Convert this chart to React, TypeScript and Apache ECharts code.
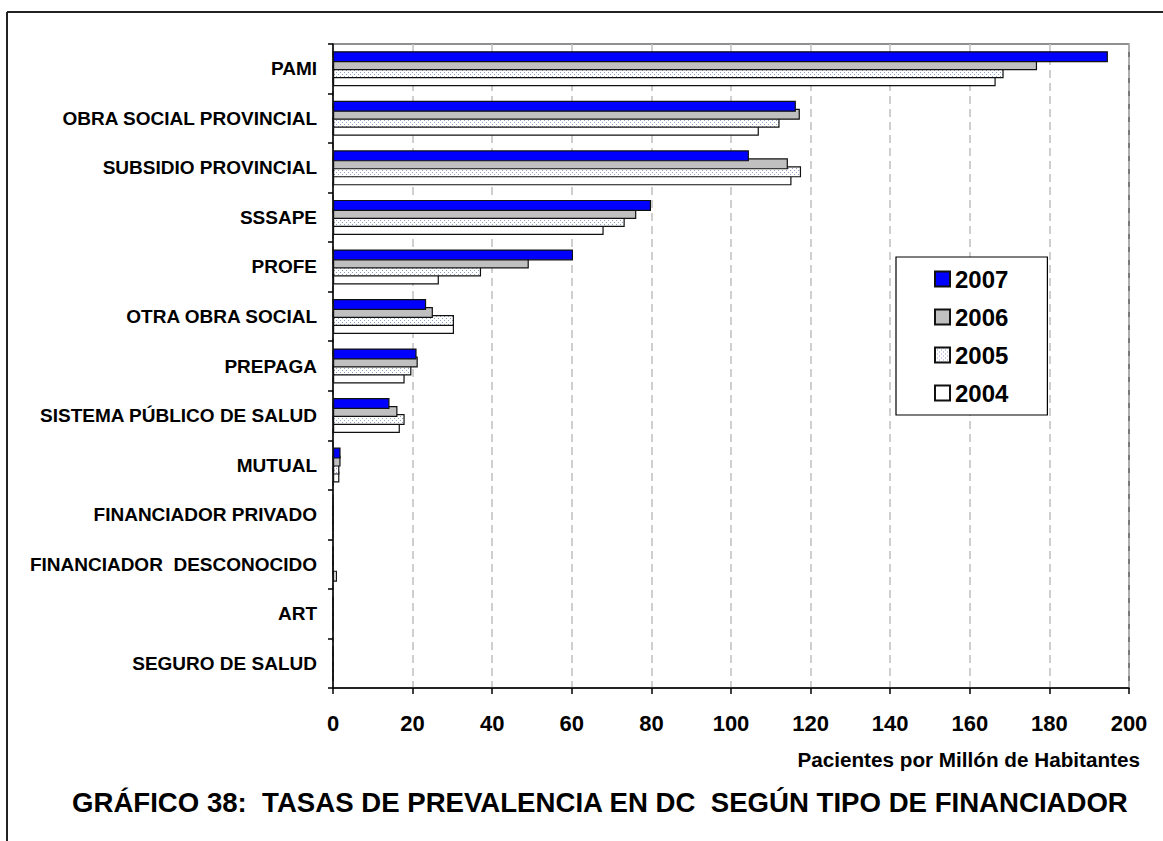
import React, { useEffect, useRef } from "react";
import * as echarts from "echarts";

const categories = [
  "PAMI",
  "OBRA SOCIAL PROVINCIAL",
  "SUBSIDIO PROVINCIAL",
  "SSSAPE",
  "PROFE",
  "OTRA OBRA SOCIAL",
  "PREPAGA",
  "SISTEMA PÚBLICO DE SALUD",
  "MUTUAL",
  "FINANCIADOR PRIVADO",
  "FINANCIADOR  DESCONOCIDO",
  "ART",
  "SEGURO DE SALUD",
];
const seriesNames = ["2007", "2006", "2005", "2004"];
const v2007 = [194.7, 116.3, 104.5, 79.9, 60.3, 23.4, 21.0, 14.2, 1.9, 0, 0, 0, 0];
const v2006 = [176.9, 117.3, 114.3, 76.2, 49.2, 25.1, 21.3, 16.2, 1.9, 0, 0, 0, 0];
const v2005 = [168.5, 112.2, 117.6, 73.3, 37.2, 30.4, 19.7, 18.0, 1.6, 0, 0, 0, 0];
const v2004 = [166.5, 107.0, 115.2, 68.0, 26.6, 30.4, 18.0, 16.8, 1.6, 0, 1.0, 0, 0];
const xTicks = { min: 0, max: 200, interval: 20 };

const FONT = "'Liberation Sans', Arial, Helvetica, sans-serif";

function makeDotPattern(): string {
  const c = document.createElement("canvas");
  c.width = 4;
  c.height = 4;
  const ctx = c.getContext("2d");
  if (ctx) {
    ctx.fillStyle = "#ffffff";
    ctx.fillRect(0, 0, 4, 4);
    ctx.fillStyle = "#8ea2c8";
    ctx.fillRect(0, 0, 1, 1);
    ctx.fillRect(2, 2, 1, 1);
  }
  return c.toDataURL();
}

export default function App() {
  const ref = useRef<HTMLDivElement>(null);
  useEffect(() => {
    if (!ref.current) return;
    const chart = echarts.init(ref.current, undefined, { renderer: "svg" });
    const dot = makeDotPattern();
    const fills: any[] = [
      "#0000ff",
      "#c0c0c0",
      { image: dot, repeat: "repeat" },
      "#ffffff",
    ];
    const values = [v2007, v2006, v2005, v2004];
    const series = seriesNames.map((name, i) => ({
      name,
      type: "bar",
      data: values[i],
      barWidth: 11,
      barGap: "-27.3%",
      z: 10 - i,
      itemStyle: { color: fills[i], borderColor: "#111", borderWidth: 1.2 },
    }));
    chart.setOption({
      animation: false,
      backgroundColor: "#ffffff",
      textStyle: { fontFamily: FONT },
      title: {
        text: "GRÁFICO 38:  TASAS DE PREVALENCIA EN DC  SEGÚN TIPO DE FINANCIADOR",
        left: 72,
        top: 788,
        padding: 0,
        textStyle: { fontFamily: FONT, fontSize: 27.6, fontWeight: "bold", color: "#000" },
      },
      legend: {
        orient: "vertical",
        left: 896,
        top: 257,
        padding: [10, 39, 10, 38],
        itemGap: 14,
        itemWidth: 15,
        itemHeight: 15,
        icon: "rect",
        backgroundColor: "#ffffff",
        borderColor: "#000",
        borderWidth: 1.2,
        borderRadius: 0,
        textStyle: { fontFamily: FONT, fontSize: 24, fontWeight: "bold", color: "#000", lineHeight: 22 },
        data: seriesNames,
      },
      grid: {
        left: 333,
        top: 44,
        right: 34,
        bottom: 153,
        show: true,
        borderColor: "#222",
        borderWidth: 1.2,
        backgroundColor: "transparent",
      },
      xAxis: {
        type: "value",
        min: xTicks.min,
        max: xTicks.max,
        interval: xTicks.interval,
        axisLine: { show: true, lineStyle: { color: "#000", width: 1.5 } },
        axisTick: { show: true, length: 6, lineStyle: { color: "#000", width: 1.5 } },
        axisLabel: { margin: 24, fontFamily: FONT, fontSize: 22, fontWeight: "bold", color: "#000" },
        splitLine: { show: true, lineStyle: { color: "#c0c0c0", type: [8, 5], width: 1.5 } },
      },
      yAxis: {
        type: "category",
        inverse: true,
        data: categories,
        axisLine: { show: true, lineStyle: { color: "#000", width: 1.5 } },
        axisTick: { show: true, length: 5, alignWithLabel: false, lineStyle: { color: "#000", width: 1.5 } },
        axisLabel: { margin: 16, fontFamily: FONT, fontSize: 19, fontWeight: "bold", color: "#000" },
      },
      graphic: [
        {
          type: "line",
          shape: { x1: 7, y1: 12, x2: 1163, y2: 12 },
          style: { stroke: "#222", lineWidth: 2 },
        },
        {
          type: "line",
          shape: { x1: 7, y1: 12, x2: 7, y2: 841 },
          style: { stroke: "#222", lineWidth: 2 },
        },
        {
          type: "text",
          x: 1140,
          y: 759,
          style: {
            text: "Pacientes por Millón de Habitantes",
            textAlign: "right",
            textVerticalAlign: "middle",
            fontFamily: FONT,
            fontSize: 20.7,
            fontWeight: "bold",
            fill: "#000",
          },
        },
      ],
      series,
    });
    return () => chart.dispose();
  }, []);
  return (
    <div
      ref={ref}
      style={{ position: "absolute", left: 0, top: 0, width: 1163, height: 841 }}
    />
  );
}
